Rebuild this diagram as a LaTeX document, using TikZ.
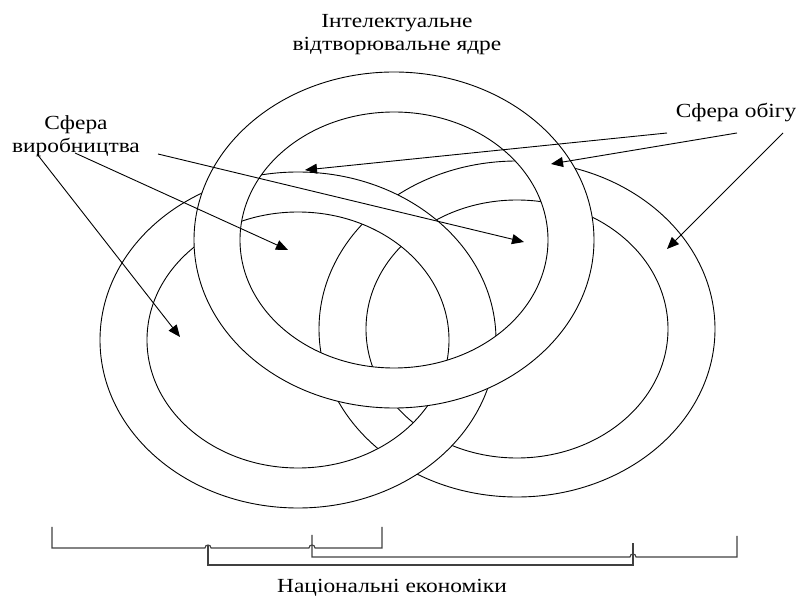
\documentclass[tikz,border=0pt]{standalone}
\usepackage{fontspec}
\setmainfont{Liberation Serif}[FakeStretch=1.17]
\usetikzlibrary{arrows.meta}
\tikzset{
  ringline/.style={draw=black, line width=0.9pt},
  ringfill/.style={fill=white, even odd rule},
  pointer/.style={draw=black, line width=0.9pt, -{Triangle[length=12pt,width=10pt]}},
  bracketline/.style={draw=black!75, line width=1.1pt},
  label/.style={font=\fontsize{20}{23}\selectfont, align=center, inner sep=0pt}
}
\begin{document}
\begin{tikzpicture}[x=1pt, y=-1pt]
\useasboundingbox (0,0) rectangle (796,601);
% right ring (bottom layer)
\fill[ringfill] (517,329) ellipse [x radius=198pt, y radius=168pt] (517,329) ellipse [x radius=151pt, y radius=129pt];
\draw[ringline] (517,329) ellipse [x radius=198pt, y radius=168pt];
\draw[ringline] (517,329) ellipse [x radius=151pt, y radius=129pt];
% left ring
\fill[ringfill] (298,340) ellipse [x radius=198pt, y radius=168pt] (298,340) ellipse [x radius=151pt, y radius=128pt];
\draw[ringline] (298,340) ellipse [x radius=198pt, y radius=168pt];
\draw[ringline] (298,340) ellipse [x radius=151pt, y radius=128pt];
% top ring (top layer)
\fill[ringfill] (394,240) ellipse [x radius=200pt, y radius=168pt] (394,240) ellipse [x radius=154pt, y radius=128pt];
\draw[ringline] (394,240) ellipse [x radius=200pt, y radius=168pt];
\draw[ringline] (394,240) ellipse [x radius=154pt, y radius=128pt];

% labels
\node[label] (core) at (397,35) {Інтелектуальне\\відтворювальне ядре};
\node[label] (prod) at (76,136) {Сфера\\виробництва};
\node[label, anchor=base] (circ) at (736,118) {Сфера обігу};
\node[label, anchor=base] (nat) at (392,593) {Національні економіки};

% arrow start and tip points
\coordinate (pa) at (37,154);
\coordinate (pb) at (75,153);
\coordinate (pc) at (158,154);
\coordinate (ta) at (180,337);
\coordinate (tb) at (288,250);
\coordinate (tc) at (524,242);
\coordinate (cd) at (667,133);
\coordinate (ce) at (737,133);
\coordinate (cf) at (783,133);
\coordinate (td) at (305,170);
\coordinate (te) at (551,164);
\coordinate (tf) at (667,249);
\draw[pointer] (pa) -- (ta);
\draw[pointer] (pb) -- (tb);
\draw[pointer] (pc) -- (tc);
\draw[pointer] (cd) -- (td);
\draw[pointer] (ce) -- (te);
\draw[pointer] (cf) -- (tf);

% brackets
\coordinate (a1) at (52,527);
\coordinate (a2) at (382,527);
\coordinate (b1) at (312,535);
\coordinate (b2) at (737,536);
\coordinate (c1) at (208,545);
\coordinate (c2) at (633,543);
\draw[bracketline] (a1) -- (52,548) -- (205,548) .. controls (205,544) and (211,544) .. (211,548)
  -- (309,548) .. controls (309,544) and (315,544) .. (315,548) -- (382,548) -- (a2);
\draw[bracketline] (b1) -- (312,557) -- (630,557) .. controls (630,553) and (636,553) .. (636,557)
  -- (737,557) -- (b2);
\draw[bracketline] (c1) -- (208,565) -- (633,565) -- (c2);
\end{tikzpicture}
\end{document}
